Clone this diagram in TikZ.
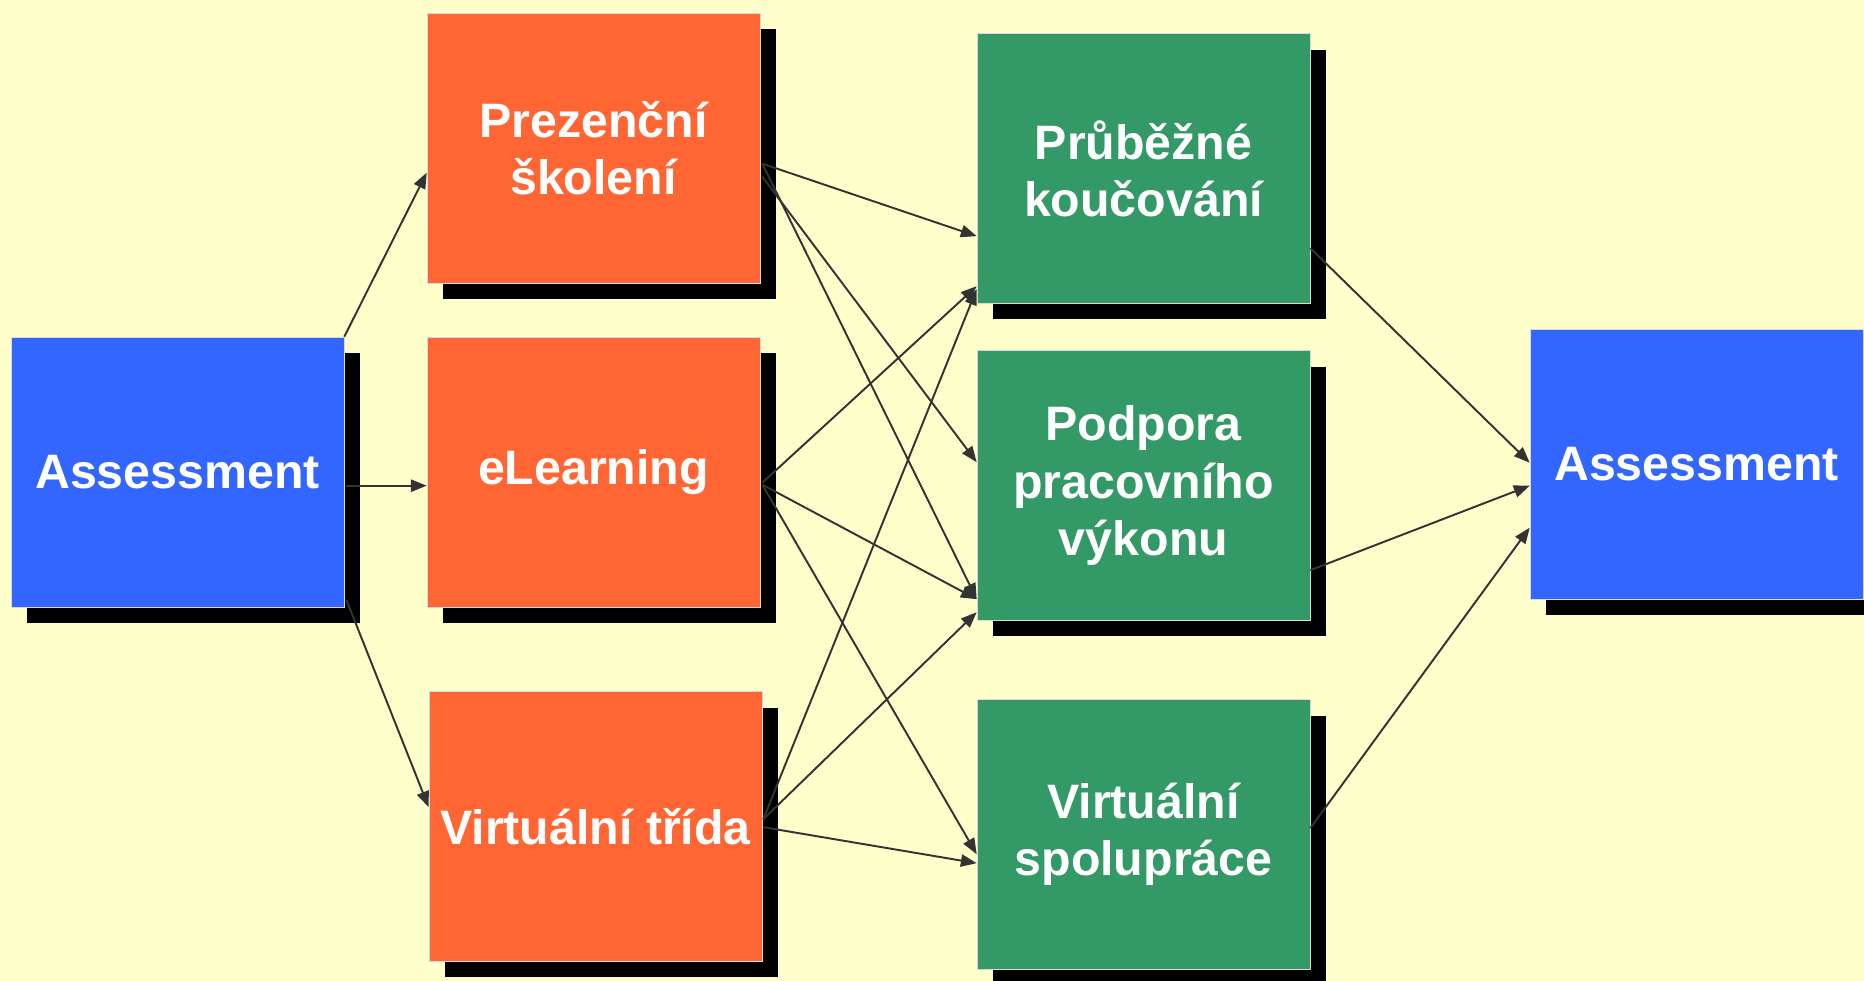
\documentclass[tikz,border=0pt]{standalone}
\usepackage{fontspec}
\setmainfont{Liberation Sans}
\usetikzlibrary{arrows.meta,calc,shadows}
\definecolor{bgyellow}{HTML}{FFFFCC}
\definecolor{boxblue}{HTML}{3366FF}
\definecolor{boxorange}{HTML}{FF6633}
\definecolor{boxgreen}{HTML}{339966}
\definecolor{linkgray}{HTML}{333333}

\begin{document}
\begin{tikzpicture}[x=0.02cm,y=-0.02cm,
	box/.style={minimum width=6.66cm,minimum height=5.4cm,inner sep=0pt,align=center,
		text=white,draw=white!85!black,line width=0.4pt,
		font=\fontsize{27.5}{32.5}\selectfont\bfseries,
		drop shadow={shadow xshift=0.32cm,shadow yshift=-0.32cm,opacity=1,fill=black}},
	link/.style={draw=linkgray,line width=1.1pt,-{Triangle[length=9pt,width=7pt]}}]
	\clip (0,0) rectangle (1864,981);
	\fill[bgyellow] (0,0) rectangle (1864,981);
	\node[box,fill=boxblue]   (as1) at (177.5,472)  {Assessment};
	\node[box,fill=boxorange] (pz)  at (593.5,148)  {Prezenční\\školení};
	\node[box,fill=boxorange] (el)  at (593.5,472)  {eLearning};
	\node[box,fill=boxorange] (vt)  at (595.5,826.5) {Virtuální třída};
	\node[box,fill=boxgreen]  (pr)  at (1143.5,168.5) {Průběžné\\koučování};
	\node[box,fill=boxgreen]  (pp)  at (1143.5,485.5) {Podpora\\pracovního\\výkonu};
	\node[box,fill=boxgreen]  (vs)  at (1143.5,834.5) {Virtuální\\spolupráce};
	\node[box,fill=boxblue]   (as2) at (1696.5,464) {Assessment};
	% from the first assessment
	\draw[link] (as1.north east) -- ($(pz.north west)+(0,160)$);
	\draw[link] ($(as1.north east)+(2,149)$) -- ($(el.north west)+(0,149)$);
	\draw[link] ($(as1.north east)+(2,263)$) -- ($(vt.north west)+(0,116)$);
	% from the learning forms
	\draw[link] ($(pz.north east)+(2,151)$) -- ($(pr.north west)+(0,203)$);
	\draw[link] ($(pz.north east)+(2,164)$) -- ($(pp.north west)+(0,112)$);
	\draw[link] ($(pz.north east)+(2,151)$) -- ($(pp.north west)+(0,249)$);
	\draw[link] ($(el.north east)+(2,146)$) -- ($(pr.north west)+(0,253)$);
	\draw[link] ($(el.north east)+(2,148)$) -- ($(pp.north west)+(0,249)$);
	\draw[link] ($(el.north east)+(2,148)$) -- ($(vs.north west)+(0,155)$);
	\draw[link] ($(vt.north east)+(1,128)$) -- ($(pr.north west)+(0,256)$);
	\draw[link] ($(vt.north east)+(1,128)$) -- ($(pp.north west)+(0,262)$);
	\draw[link] ($(vt.north east)+(1,136)$) -- ($(vs.north west)+(0,164)$);
	% to the second assessment
	\draw[link] ($(pr.north east)+(0,215)$) -- ($(as2.north west)+(0,134)$);
	\draw[link] ($(pp.north east)+(0,220)$) -- ($(as2.north west)+(0,157)$);
	\draw[link] ($(vs.north east)+(0,129)$) -- ($(as2.north west)+(0,199)$);
\end{tikzpicture}
\end{document}
